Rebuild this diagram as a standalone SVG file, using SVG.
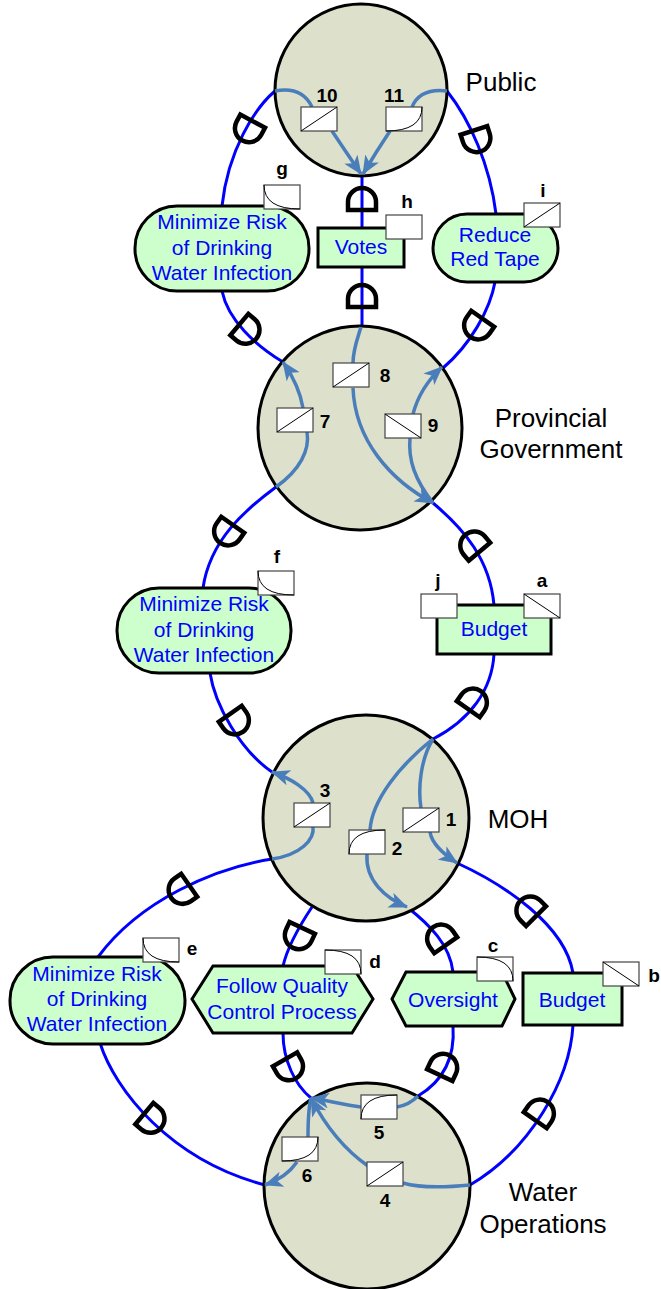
<svg xmlns="http://www.w3.org/2000/svg" xmlns:xlink="http://www.w3.org/1999/xlink" width="661" height="1289" viewBox="0 0 661 1289">
<style>
.actor{fill:#dde0cb;stroke:#000;stroke-width:3}
.goal{fill:#ccffcc;stroke:#000;stroke-width:3}
.gt{font-family:"Liberation Sans",Arial,sans-serif;font-size:21px;fill:#0000ff;text-anchor:middle}
.lbl{font-family:"Liberation Sans",Arial,sans-serif;font-size:26px;fill:#000;text-anchor:middle}
.num{font-family:"Liberation Sans",Arial,sans-serif;font-size:19px;font-weight:bold;fill:#000;text-anchor:middle}
.conn{fill:none;stroke:#0000ff;stroke-width:3}
.flow{fill:none;stroke:#4a7ebb;stroke-width:3.5}
.dm{fill:none;stroke:#000;stroke-width:4.5;stroke-linejoin:miter}
.ib{fill:#fff;stroke:#444;stroke-width:1.2}
.ic{fill:none;stroke:#000;stroke-width:1}
</style>
<defs>
<marker id="ah" markerUnits="userSpaceOnUse" markerWidth="20" markerHeight="16" refX="18" refY="8" orient="auto">
<path d="M0,0 L19,8 L0,16 L5,8 z" fill="#4a7ebb"/>
</marker>
<path id="D" class="dm" d="M-10,-14 L-10,14 L-2,14 A14,14 0 0 0 -2,-14 Z"/>
<g id="b-inc"><rect class="ib" width="36" height="24"/><path class="ic" d="M0,24 L36,0"/></g>
<g id="b-dec"><rect class="ib" width="36" height="24"/><path class="ic" d="M0,0 L36,24"/></g>
<g id="b-cvi"><rect class="ib" width="36" height="24"/><path class="ic" d="M0,24 Q36,24 36,0"/></g>
<g id="b-cci"><rect class="ib" width="36" height="24"/><path class="ic" d="M0,24 Q0,0 36,0"/></g>
<g id="b-cvd"><rect class="ib" width="36" height="24"/><path class="ic" d="M0,0 Q0,24 36,24"/></g>
<g id="b-ccd"><rect class="ib" width="36" height="24"/><path class="ic" d="M0,0 Q36,0 36,24"/></g>
<g id="b-emp"><rect class="ib" width="36" height="24"/></g>
</defs>

<g id="connectors">
<path class="conn" d="M275,91 C255,108 228,150 222,206"/>
<path class="conn" d="M222,291 C228,320 255,345 283,362"/>
<path class="conn" d="M362,175 L362,228"/>
<path class="conn" d="M362,267 L362,327"/>
<path class="conn" d="M447,91 C470,120 490,165 496,214"/>
<path class="conn" d="M495,282 C490,310 470,345 443,368"/>
<path class="conn" d="M276,487 C245,510 210,540 203,588"/>
<path class="conn" d="M210,673 C215,705 240,750 272,772"/>
<path class="conn" d="M433,503 C465,530 490,560 494,605"/>
<path class="conn" d="M494,654 C492,690 470,720 433,739"/>
<path class="conn" d="M272,859 C215,868 140,900 98,957"/>
<path class="conn" d="M100,1043 C115,1090 170,1160 265,1185"/>
<path class="conn" d="M312,907 C300,925 288,945 283,966"/>
<path class="conn" d="M283,1033 C283,1060 295,1085 311,1098"/>
<path class="conn" d="M407,907 C430,925 450,945 453,972"/>
<path class="conn" d="M453,1026 C455,1055 445,1080 418,1096"/>
<path class="conn" d="M457,863 C505,885 565,925 573,973"/>
<path class="conn" d="M573,1025 C570,1080 530,1150 470,1185"/>
</g>

<g id="public">
<circle class="actor" cx="361" cy="90" r="86"/>
<text class="lbl" x="501" y="91">Public</text>
</g>
<g id="provincial-government">
<circle class="actor" cx="360" cy="428" r="102"/>
<text class="lbl" x="551" y="427">Provincial</text>
<text class="lbl" x="551" y="458">Government</text>
</g>
<g id="moh">
<circle class="actor" cx="366" cy="818" r="103"/>
<text class="lbl" x="518" y="828">MOH</text>
</g>
<g id="water-operations">
<circle class="actor" cx="367" cy="1186" r="103"/>
<text class="lbl" x="543" y="1201">Water</text>
<text class="lbl" x="543" y="1233">Operations</text>
</g>

<g id="flows">
<path class="flow" d="M275,91 Q302,86 312,107"/>
<path class="flow" d="M332,131 Q346,152 361,174" marker-end="url(#ah)"/>
<path class="flow" d="M447,91 Q420,88 412,107"/>
<path class="flow" d="M390,131 Q376,152 363,174" marker-end="url(#ah)"/>
<path class="flow" d="M276,487 C300,470 310,450 307,432"/>
<path class="flow" d="M303,408 C300,390 292,375 283,362" marker-end="url(#ah)"/>
<path class="flow" d="M361,327 C357,340 353,350 353,363"/>
<path class="flow" d="M353,388 C355,440 390,480 433,503" marker-end="url(#ah)"/>
<path class="flow" d="M433,503 C415,480 408,460 410,438"/>
<path class="flow" d="M413,414 C418,395 428,380 442,367" marker-end="url(#ah)"/>
<path class="flow" d="M272,859 C300,855 315,840 313,826"/>
<path class="flow" d="M313,803 C310,790 290,778 272,772" marker-end="url(#ah)"/>
<path class="flow" d="M433,739 C420,760 418,790 421,808"/>
<path class="flow" d="M430,832 C432,845 445,855 457,863" marker-end="url(#ah)"/>
<path class="flow" d="M433,739 C400,765 372,800 370,830"/>
<path class="flow" d="M367,854 C365,880 385,898 407,907" marker-end="url(#ah)"/>
<path class="flow" d="M418,1096 C410,1104 403,1106 397,1107"/>
<path class="flow" d="M361,1107 C345,1105 325,1100 311,1098" marker-end="url(#ah)"/>
<path class="flow" d="M470,1185 C440,1188 420,1188 403,1183"/>
<path class="flow" d="M368,1166 C345,1150 325,1125 311,1098" marker-end="url(#ah)"/>
<path class="flow" d="M311,1098 C308,1110 308,1125 308,1137"/>
<path class="flow" d="M297,1162 C290,1172 280,1180 265,1185" marker-end="url(#ah)"/>
</g>

<g id="goal-g">
<rect class="goal" x="135" y="206" width="174" height="85" rx="42"/>
<text class="gt" x="222" y="229">Minimize Risk</text>
<text class="gt" x="222" y="255">of Drinking</text>
<text class="gt" x="222" y="280">Water Infection</text>
<use href="#b-cvd" x="264" y="185"/>
<text class="num" x="282" y="175">g</text>
</g>
<g id="resource-h">
<rect class="goal" x="318" y="228" width="86" height="39"/>
<text class="gt" x="361" y="254">Votes</text>
<use href="#b-emp" x="386" y="215"/>
<text class="num" x="407" y="208">h</text>
</g>
<g id="goal-i">
<rect class="goal" x="433" y="214" width="125" height="68" rx="34"/>
<text class="gt" x="495" y="242">Reduce</text>
<text class="gt" x="495" y="266">Red Tape</text>
<use href="#b-inc" x="524" y="203"/>
<text class="num" x="543" y="197">i</text>
</g>
<g id="goal-f">
<rect class="goal" x="117" y="588" width="174" height="85" rx="42"/>
<text class="gt" x="204" y="611">Minimize Risk</text>
<text class="gt" x="204" y="637">of Drinking</text>
<text class="gt" x="204" y="662">Water Infection</text>
<use href="#b-cvd" x="258" y="571"/>
<text class="num" x="277" y="563">f</text>
</g>
<g id="resource-a">
<rect class="goal" x="437" y="605" width="114" height="49"/>
<text class="gt" x="494" y="636">Budget</text>
<use href="#b-emp" x="421" y="594"/>
<text class="num" x="438" y="587">j</text>
<use href="#b-dec" x="524" y="594"/>
<text class="num" x="542" y="587">a</text>
</g>
<g id="goal-e">
<rect class="goal" x="10" y="957" width="175" height="87" rx="43"/>
<text class="gt" x="97" y="981">Minimize Risk</text>
<text class="gt" x="97" y="1006">of Drinking</text>
<text class="gt" x="97" y="1031">Water Infection</text>
<use href="#b-cvd" x="143" y="938"/>
<text class="num" x="192" y="955">e</text>
</g>
<g id="task-d">
<polygon class="goal" points="192,999 213,966 352,966 373,999 352,1033 213,1033"/>
<text class="gt" x="282" y="993">Follow Quality</text>
<text class="gt" x="282" y="1019">Control Process</text>
<use href="#b-ccd" x="325" y="950"/>
<text class="num" x="375" y="968">d</text>
</g>
<g id="task-c">
<polygon class="goal" points="392,999 406,972 502,972 515,999 502,1026 406,1026"/>
<text class="gt" x="453" y="1007">Oversight</text>
<use href="#b-ccd" x="477" y="957"/>
<text class="num" x="493" y="952">c</text>
</g>
<g id="resource-b">
<rect class="goal" x="523" y="973" width="99" height="52"/>
<text class="gt" x="572" y="1007">Budget</text>
<use href="#b-dec" x="603" y="962"/>
<text class="num" x="654" y="982">b</text>
</g>

<g id="indicators">
<use href="#b-inc" x="301" y="107"/><text class="num" x="327" y="102">10</text>
<use href="#b-cvi" x="386" y="107"/><text class="num" x="394" y="102">11</text>
<use href="#b-inc" x="277" y="408"/><text class="num" x="325" y="428">7</text>
<use href="#b-inc" x="333" y="363"/><text class="num" x="385" y="382">8</text>
<use href="#b-dec" x="385" y="414"/><text class="num" x="433" y="432">9</text>
<use href="#b-inc" x="294" y="803"/><text class="num" x="325" y="797">3</text>
<use href="#b-inc" x="403" y="808"/><text class="num" x="451" y="826">1</text>
<use href="#b-cci" x="349" y="830"/><text class="num" x="397" y="855">2</text>
<use href="#b-cci" x="361" y="1095"/><text class="num" x="379" y="1139">5</text>
<use href="#b-inc" x="367" y="1162"/><text class="num" x="385" y="1207">4</text>
<use href="#b-cvi" x="282" y="1137"/><text class="num" x="307" y="1182">6</text>
</g>

<g id="dependency-markers">
<use href="#D" transform="translate(248,130) rotate(118)"/>
<use href="#D" transform="translate(247,331) rotate(40)"/>
<use href="#D" transform="translate(362,200) rotate(-90)"/>
<use href="#D" transform="translate(362,297) rotate(-90)"/>
<use href="#D" transform="translate(477,140) rotate(72)"/>
<use href="#D" transform="translate(477,327) rotate(125)"/>
<use href="#D" transform="translate(227,533) rotate(125)"/>
<use href="#D" transform="translate(236,722) rotate(55)"/>
<use href="#D" transform="translate(473,544) rotate(-130)"/>
<use href="#D" transform="translate(474,701) rotate(-55)"/>
<use href="#D" transform="translate(181,891) rotate(145)"/>
<use href="#D" transform="translate(152,1120) rotate(40)"/>
<use href="#D" transform="translate(298,937) rotate(115)"/>
<use href="#D" transform="translate(290,1068) rotate(60)"/>
<use href="#D" transform="translate(440,937) rotate(-125)"/>
<use href="#D" transform="translate(444,1066) rotate(-65)"/>
<use href="#D" transform="translate(529,909) rotate(-135)"/>
<use href="#D" transform="translate(541,1112) rotate(-55)"/>
</g>
</svg>
